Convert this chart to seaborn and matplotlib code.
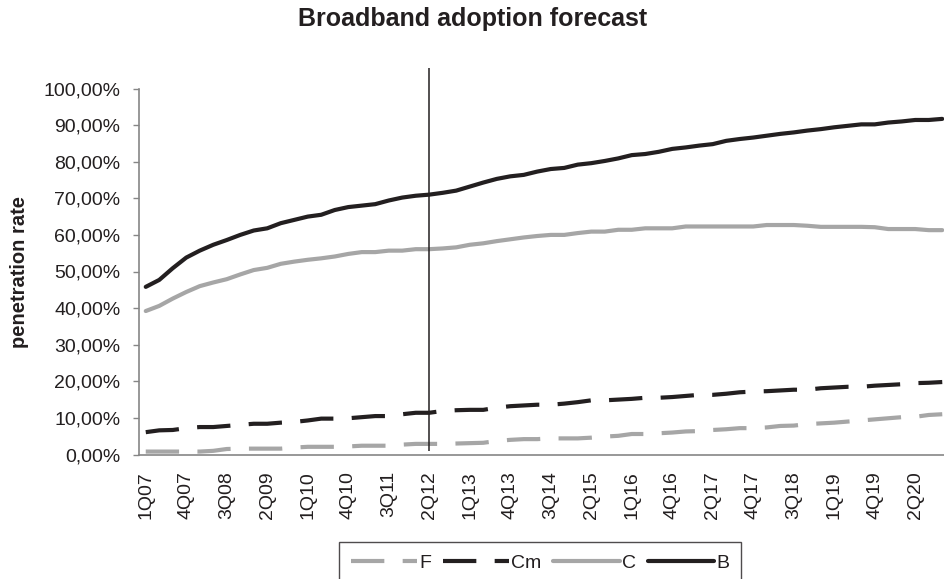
import numpy as np
import pandas as pd
import matplotlib
matplotlib.use("Agg")
import matplotlib.pyplot as plt
from matplotlib.lines import Line2D
from matplotlib.ticker import FuncFormatter
import seaborn as sns

# ---------------- data ----------------
title = "Broadband adoption forecast"
y_label = "penetration rate"
series_names = ["F", "Cm", "C", "B"]

tick_labels = ["1Q07", "4Q07", "3Q08", "2Q09", "1Q10", "4Q10", "3Q11", "2Q12",
               "1Q13", "4Q13", "3Q14", "2Q15", "1Q16", "4Q16", "2Q17", "4Q17",
               "3Q18", "1Q19", "4Q19", "2Q20"]
label_every = 3
n_periods = 60
forecast_start = 21  # position of the 2Q12 divider

F = [0.8, 0.8, 0.8, 0.8, 0.8, 1.0, 1.5, 1.6, 1.6, 1.6, 1.6, 1.9, 2.1, 2.1, 2.1,
     2.2, 2.4, 2.4, 2.4, 2.7, 2.9, 2.9, 2.9, 3.0, 3.1, 3.2, 3.7, 4.0, 4.2, 4.2,
     4.4, 4.4, 4.4, 4.6, 4.9, 5.1, 5.6, 5.6, 5.8, 6.0, 6.3, 6.4, 6.7, 6.9, 7.2,
     7.2, 7.4, 7.8, 7.9, 8.3, 8.5, 8.7, 9.0, 9.3, 9.6, 9.9, 10.2, 10.3, 10.8, 11.0]
Cm = [6.1, 6.6, 6.7, 7.2, 7.5, 7.5, 7.8, 8.1, 8.4, 8.4, 8.7, 8.9, 9.3, 9.8, 9.8,
      9.9, 10.2, 10.5, 10.5, 11.0, 11.4, 11.4, 11.9, 12.1, 12.2, 12.2, 12.8, 13.2,
      13.4, 13.6, 13.6, 13.9, 14.3, 14.8, 14.8, 15.0, 15.2, 15.5, 15.5, 15.7,
      16.0, 16.3, 16.3, 16.6, 17.0, 17.2, 17.3, 17.5, 17.7, 17.7, 18.1, 18.3,
      18.5, 18.5, 18.8, 19.0, 19.2, 19.5, 19.6, 19.8]
C = [39.2, 40.6, 42.6, 44.4, 46.0, 47.0, 47.9, 49.2, 50.4, 51.0, 52.1, 52.7, 53.2,
     53.6, 54.1, 54.8, 55.3, 55.3, 55.7, 55.7, 56.1, 56.1, 56.3, 56.6, 57.3, 57.7,
     58.3, 58.8, 59.3, 59.7, 60.0, 60.0, 60.5, 60.9, 60.9, 61.4, 61.4, 61.8, 61.8,
     61.8, 62.3, 62.3, 62.3, 62.3, 62.3, 62.3, 62.7, 62.7, 62.7, 62.5, 62.2, 62.2,
     62.2, 62.2, 62.1, 61.6, 61.6, 61.6, 61.3, 61.3]
B = [45.8, 47.7, 50.9, 53.8, 55.7, 57.3, 58.6, 60.0, 61.2, 61.8, 63.2, 64.1, 65.0,
     65.5, 66.8, 67.6, 68.0, 68.4, 69.4, 70.2, 70.7, 71.0, 71.5, 72.1, 73.2, 74.3,
     75.3, 76.0, 76.4, 77.3, 78.0, 78.3, 79.2, 79.6, 80.2, 80.9, 81.8, 82.1, 82.7,
     83.5, 83.9, 84.4, 84.8, 85.7, 86.2, 86.6, 87.1, 87.6, 88.0, 88.5, 88.9, 89.4,
     89.8, 90.2, 90.2, 90.7, 91.0, 91.4, 91.4, 91.7]

# ---------------- styling ----------------
sns.set_style("white")
plt.rcParams["font.family"] = ["Liberation Sans", "DejaVu Sans"]
TEXT = "#231f20"
BLACK = "#231f20"
GRAY = "#a6a6a6"
AXIS = "#868686"
plt.rcParams["text.color"] = TEXT
plt.rcParams["axes.labelcolor"] = TEXT
plt.rcParams["xtick.color"] = AXIS
plt.rcParams["ytick.color"] = AXIS
plt.rcParams["xtick.labelcolor"] = TEXT
plt.rcParams["ytick.labelcolor"] = TEXT

palette = {"F": GRAY, "Cm": BLACK, "C": GRAY, "B": BLACK}
dash = (8.0, 4.4)
dashes = {"F": dash, "Cm": dash, "C": "", "B": ""}
LW = 3.0

x = np.arange(n_periods)
df = pd.concat([
    pd.DataFrame({"period": x, "value": vals, "series": name})
    for name, vals in zip(series_names, [F, Cm, C, B])
], ignore_index=True)

W, H = 945, 579
fig = plt.figure(figsize=(W / 100, H / 100), dpi=100)
ax = fig.add_axes([139 / W, 1 - 454.5 / H, 810 / W, (454.5 - 88.5) / H])

sns.lineplot(data=df, x="period", y="value", hue="series", style="series",
             hue_order=series_names, style_order=series_names,
             palette=palette, dashes=dashes, linewidth=LW, legend=False, ax=ax)
for ln in ax.lines:
    ln.set_dash_capstyle("butt")
    ln.set_solid_capstyle("round")

# divider line for forecast start
ax.vlines(forecast_start, 1.0, 105.7, color=BLACK, linewidth=1.1,
          clip_on=False, zorder=5)

ax.set_xlim(-0.5, n_periods - 0.5)
ax.set_ylim(0, 100)
ax.set_yticks(np.arange(0, 101, 10))
ax.yaxis.set_major_formatter(FuncFormatter(lambda v, p: f"{v:.2f}%".replace(".", ",")))

ax.set_xticks(np.arange(0, n_periods, label_every)[:len(tick_labels)])
ax.set_xticklabels(tick_labels, rotation=90)
ax.set_xticks(np.arange(-0.5, n_periods, 1), minor=True)
ax.tick_params(axis="x", which="major", length=0, pad=12, labelsize=14)
ax.tick_params(axis="x", which="minor", length=4.3, width=1, direction="out", color=AXIS)
ax.tick_params(axis="y", which="major", length=4.3, width=1, direction="out",
               pad=9, labelsize=14, left=True, color=AXIS)

for s in ["top", "right"]:
    ax.spines[s].set_visible(False)
for s in ["left", "bottom"]:
    ax.spines[s].set_color(AXIS)
    ax.spines[s].set_linewidth(1.2)

ax.set_xlabel("")
ax.set_ylabel(y_label, fontsize=14.5, fontweight="bold", color=TEXT)
ax.yaxis.set_label_coords((19.5 - 139) / 810, 0.5)
ax.yaxis.label.set_verticalalignment("center")

fig.text(0.5, 1 - 26 / H, title, ha="center", va="baseline",
         fontsize=18, fontweight="bold", color=TEXT)

handles = []
for name in series_names:
    h = Line2D([], [], color=palette[name], linewidth=LW,
               linestyle=(0, dashes[name]) if dashes[name] else "-")
    h.set_dash_capstyle("butt")
    handles.append(h)
leg = fig.legend(handles, series_names, loc="upper center", ncol=4,
                 bbox_to_anchor=(540 / W, 1 - 542 / H), fontsize=14,
                 handlelength=3.4, handletextpad=0.12, columnspacing=0.6,
                 frameon=True, fancybox=False, borderpad=0.62, borderaxespad=0)
leg.get_frame().set_edgecolor(BLACK)
leg.get_frame().set_linewidth(1.0)

fig.savefig("out.png", dpi=100)
